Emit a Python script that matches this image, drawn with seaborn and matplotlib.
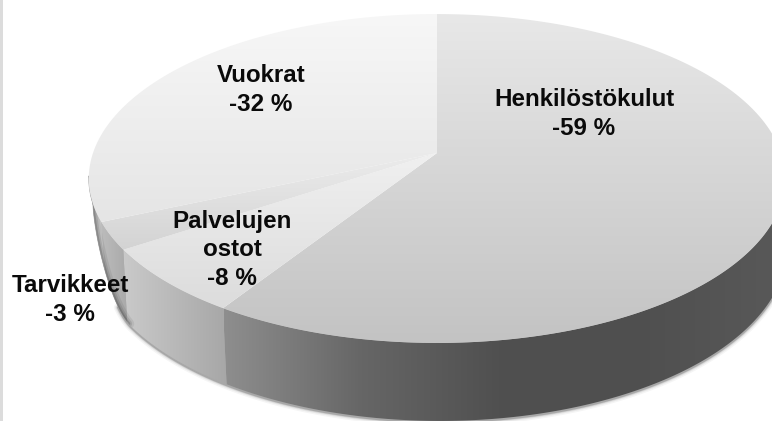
import numpy as np
import matplotlib
matplotlib.use("Agg")
import matplotlib.pyplot as plt
from matplotlib.patches import Polygon, Rectangle
import seaborn as sns

# Data: clockwise from the top of the pie
categories = ["Henkilöstökulut", "Palvelujen\nostot", "Tarvikkeet", "Vuokrat"]
printed_labels = ["-59 %", "-8 %", "-3 %", "-32 %"]
slice_shares = [59.1, 6.6, 2.7, 31.6]   # slice sizes as drawn in the picture

# Style
label_xy = [(584, 114), (232, 250), (70, 300), (261, 90)]
top_colors = [["#e8e8e8", "#c3c3c3"], ["#f0f0f0", "#dcdcdc"],
              ["#ececec", "#d3d3d3"], ["#f7f7f7", "#e5e5e5"]]
side_colors = [["#8e8e8e", "#666666", "#505050", "#4f4f4f", "#585858"],
               ["#cacaca", "#a6a6a6"], ["#bcbcbc", "#a8a8a8"],
               ["#bdbdbd", "#cfcfcf"]]
side_x = [(224, 772), (122, 230), (100, 130), (85, 106)]

W, H = 772, 421
APEX_X, APEX_Y = 437, 153
A, B, K = 344.0, 160.5, 0.155
TOP_E = (437.0, 178.5, 348.0, 164.5)
BOT_E = (440.0, 247.0, 347.0, 174.0)

sns.set_theme(style="white")
plt.rcParams["font.family"] = ["Liberation Sans", "DejaVu Sans"]

fig = plt.figure(figsize=(W / 100, H / 100), dpi=100)
ax = fig.add_axes([0, 0, 1, 1])
ax.set_xlim(0, W)
ax.set_ylim(H, 0)
ax.axis("off")


def top_point(theta):
    u, v = np.sin(theta), np.cos(theta)
    d = 1 + K * v
    return APEX_X + A * u / d, APEX_Y - B * v / d


def bottom_point(theta):
    x, y = top_point(theta)
    c = (x - TOP_E[0]) / TOP_E[2]
    s = (y - TOP_E[1]) / TOP_E[3]
    t = np.clip((-c - 0.89) / 0.11, 0, 1)
    return BOT_E[0] + BOT_E[2] * c, BOT_E[1] + BOT_E[3] * s - 47 * t ** 2


def gradient(poly, colors, extent, vertical, z):
    cmap = sns.blend_palette(colors, 256, as_cmap=True)
    g = np.linspace(0, 1, 256)
    img = g[:, None] if vertical else g[None, :]
    im = ax.imshow(img, cmap=cmap, extent=extent, origin="lower" if not vertical else "upper",
                   aspect="auto", zorder=z, interpolation="bilinear")
    patch = Polygon(poly, closed=True, transform=ax.transData, fc="none", ec="none")
    ax.add_patch(patch)
    im.set_clip_path(patch)
    return patch


ax.add_patch(Rectangle((0, 0), 2.5, H, fc="#dcdcdc", ec="none", zorder=0))

edges = np.radians(np.concatenate([[0], np.cumsum(slice_shares)]) / np.sum(slice_shares) * 360)
FRONT_START, FRONT_END = np.radians(88), np.radians(262)

# soft shadow below the wall
th = np.linspace(FRONT_START, np.radians(240), 300)
bx, by = bottom_point(th)
for lw, al in [(6, .04), (4, .06), (2.5, .10), (1.5, .18)]:
    ax.plot(bx, by + 1, color="black", lw=lw, alpha=al, zorder=1, solid_capstyle="round")

# side wall: an underlay closes the seams between the gradient pieces
th = np.linspace(FRONT_START, FRONT_END, 400)
tx, ty = top_point(th)
bx, by = bottom_point(th)
wall = np.r_[np.c_[tx, ty], np.c_[bx, by][::-1]]
wall_patch = Polygon(wall, closed=True, fc="#a8a8a8", ec="#a8a8a8", lw=0.5, zorder=1.5)
ax.add_patch(wall_patch)

for i in range(4):
    t0, t1 = edges[i], min(edges[i + 1], FRONT_END)
    th = np.linspace(max(t0, FRONT_START), t1, 200)
    tx, ty = top_point(th)
    bx, by = bottom_point(th)
    poly = np.r_[np.c_[tx, ty], np.c_[bx, by][::-1]]
    gradient(poly, side_colors[i], (side_x[i][0], side_x[i][1], 440, 0), False, 2)

# dark rim inside the wall at the far left
th = np.linspace(np.radians(236), FRONT_END, 100)
bx, by = bottom_point(th)
for lw, al in [(8, .07), (5, .10), (2.5, .16)]:
    line, = ax.plot(bx, by, color="black", lw=lw, alpha=al, zorder=3)
    line.set_clip_path(wall_patch)

# top face
for i in range(4):
    th = np.linspace(edges[i], edges[i + 1], 300)
    tx, ty = top_point(th)
    poly = np.r_[[[APEX_X, APEX_Y]], np.c_[tx, ty]]
    gradient(poly, top_colors[i], (60, 800, ty.max(), min(ty.min(), APEX_Y)), True, 4)

for name, pct, (x, y) in zip(categories, printed_labels, label_xy):
    ax.text(x, y, f"{name}\n{pct}", ha="center", va="center", fontsize=17.4,
            fontweight="bold", color="#0a0a0a", linespacing=1.28, zorder=6)

fig.savefig("out.png", dpi=100)
